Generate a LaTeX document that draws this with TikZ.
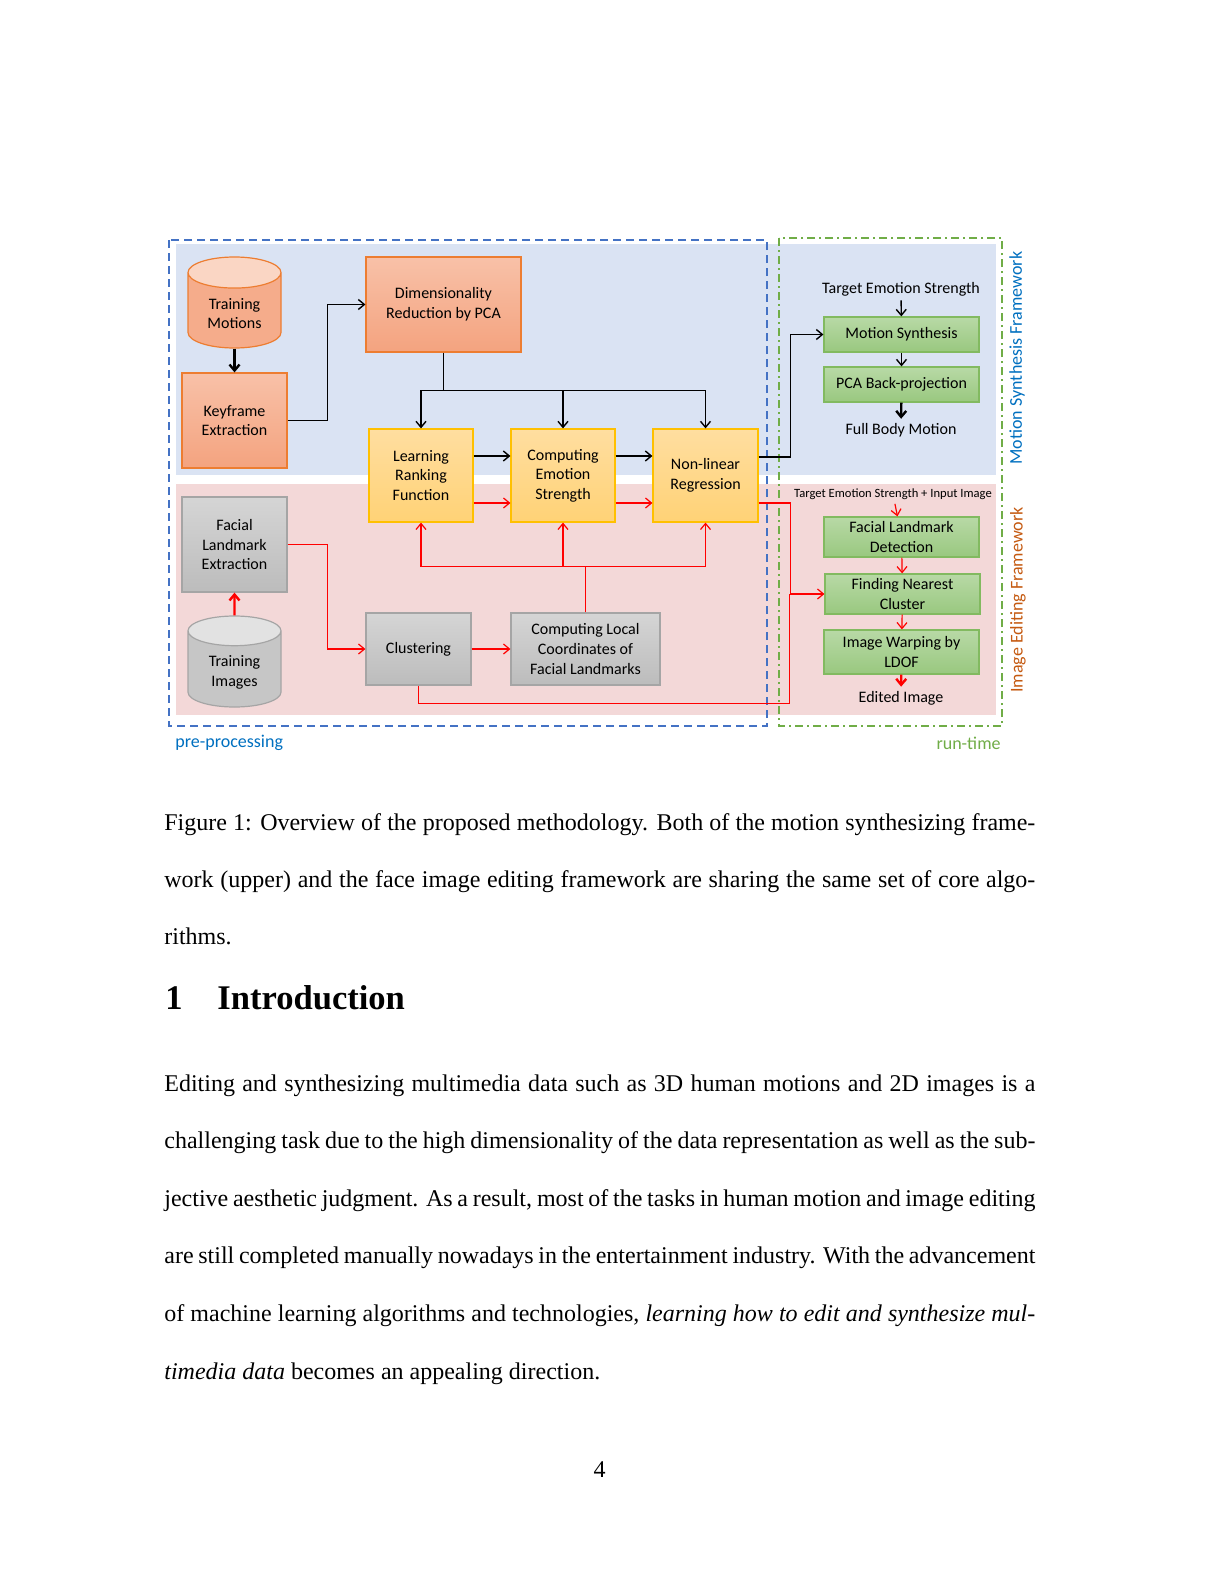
\documentclass[tikz,border=0pt]{standalone}
\usepackage{fontspec}
\setmainfont{Liberation Serif}
\newfontfamily\diagfont{Carlito}
\usetikzlibrary{arrows.meta,shapes.geometric}

\definecolor{bluebg}{RGB}{218,227,243}
\definecolor{pinkbg}{RGB}{243,216,216}
\definecolor{framebl}{RGB}{68,114,196}
\definecolor{framegn}{RGB}{112,173,71}
\definecolor{lblblue}{RGB}{0,112,192}
\definecolor{lblorange}{RGB}{197,90,17}
\definecolor{ortop}{RGB}{248,193,168}
\definecolor{orbot}{RGB}{244,163,127}
\definecolor{orbd}{RGB}{237,125,49}
\definecolor{orend}{RGB}{250,214,196}
\definecolor{yltop}{RGB}{255,222,160}
\definecolor{ylbot}{RGB}{255,210,118}
\definecolor{ylbd}{RGB}{255,192,0}
\definecolor{gytop}{RGB}{213,213,213}
\definecolor{gybot}{RGB}{188,188,188}
\definecolor{gybd}{RGB}{165,165,165}
\definecolor{gyend}{RGB}{226,226,226}
\definecolor{gntop}{RGB}{184,217,166}
\definecolor{gnbot}{RGB}{153,200,127}
\definecolor{gnbd}{RGB}{130,186,96}

\begin{document}
\begin{tikzpicture}[
  x=0.5pt, y=-0.5pt,
  >={Straight Barb[length=3pt,width=5pt]},
  lbl/.style={font=\diagfont\fontsize{8}{9.8}\selectfont, align=center, inner sep=2pt},
  box/.style={lbl, draw, line width=0.6pt, inner sep=1pt},
  motionbox/.style={box, draw=orbd, top color=ortop, bottom color=orbot,
    minimum width=52.5pt, minimum height=47.5pt},
  corebox/.style={box, draw=ylbd, top color=yltop, bottom color=ylbot,
    minimum width=52pt, minimum height=46.5pt},
  facebox/.style={box, draw=gybd, top color=gytop, bottom color=gybot,
    minimum height=36pt},
  runbox/.style={box, draw=gnbd, top color=gntop, bottom color=gnbot,
    minimum width=77.5pt},
  store/.style={lbl, draw, line width=0.6pt, cylinder, shape border rotate=90,
    aspect=0.5, cylinder uses custom fill, anchor=shape center,
    minimum width=46.5pt, minimum height=45.5pt},
  framelbl/.style={lbl, font=\diagfont\fontsize{9}{11}\selectfont},
  every edge/.style={draw, ->, line width=0.7pt, black},
  redline/.style={draw=red, line width=0.6pt},
  heavy/.style={line width=1.2pt},
  page/.style={font=\fontsize{12}{14}\selectfont, inner sep=0pt, anchor=base west}
]
  \fill[white] (0,0) rectangle (1224,1584);
  \useasboundingbox (0,0) rectangle (1224,1584);

  % Backgrounds of the two frameworks
  \fill[bluebg] (176,244) rectangle (996,475);
  \fill[pinkbg] (176,484) rectangle (996,715);
  \draw[framebl, line width=1.1pt, dash pattern=on 4pt off 2.5pt] (169,240) rectangle (767,726);
  \draw[framegn, line width=1pt, dash pattern=on 4pt off 2pt on 1pt off 2pt] (779,238) rectangle (1002,726);

  % Pre-processing: motions
  \node[store, draw=orbd, cylinder body fill=orbot!70!ortop, cylinder end fill=orend] (TM) at (234.5,302.5) {Training\\Motions};
  \node[motionbox] (KE) at (234.5,420.5) {Keyframe\\Extraction};
  \node[motionbox, minimum width=77.5pt] (DR) at (443.5,304.5) {Dimensionality\\Reduction by PCA};

  % Core algorithms
  \node[corebox] (LR) at (421,475.5) {Learning\\Ranking\\Function};
  \node[corebox] (CE) at (563,475.5) {Computing\\Emotion\\Strength};
  \node[corebox, minimum width=52.5pt] (NL) at (705.5,475.5) {Non-linear\\Regression};

  % Pre-processing: images
  \node[facebox, minimum width=52.5pt, minimum height=47.5pt] (FLE) at (234.5,544.5) {Facial\\Landmark\\Extraction};
  \node[store, draw=gybd, cylinder body fill=gybot!60!gytop, cylinder end fill=gyend] (TI) at (234.5,661.5) {Training\\Images};
  \node[facebox, minimum width=52.5pt] (CL) at (418.5,649) {Clustering};
  \node[facebox, minimum width=74.5pt] (CLC) at (585.5,649) {Computing Local\\Coordinates of\\Facial Landmarks};

  % Run-time: motion synthesis
  \node[lbl] (TES) at (901,289) {Target Emotion Strength};
  \node[runbox, minimum height=17.5pt] (MS) at (901.5,334.5) {Motion Synthesis};
  \node[runbox, minimum height=17.5pt] (PB) at (901.5,384.5) {PCA Back-projection};
  \node[lbl] (FBM) at (901,430) {Full Body Motion};

  % Run-time: image editing
  \node[lbl, font=\diagfont\fontsize{6.3}{7}\selectfont] (TESI) at (893,494) {Target Emotion Strength + Input Image};
  \node[runbox, minimum height=20pt] (FLD) at (901.5,537) {Facial Landmark\\Detection};
  \node[runbox, minimum height=20pt] (FNC) at (902.5,594) {Finding Nearest\\Cluster};
  \node[runbox, minimum height=22pt] (IW) at (901.5,652) {Image Warping by\\LDOF};
  \node[lbl] (EI) at (901,698) {Edited Image};

  % Frame labels
  \node[framelbl, text=lblblue, anchor=west, inner sep=0pt] (pre) at (175,743) {pre-processing};
  \node[framelbl, text=framegn, anchor=east, inner sep=0pt] (run) at (1001,743) {run-time};
  \node[framelbl, text=lblblue, rotate=90] (MSF) at (1017,358) {Motion Synthesis Framework};
  \node[framelbl, text=lblorange, rotate=90] (IEF) at (1018,600) {Image Editing Framework};

  % Motion pipeline (black)
  \path (TM) edge[heavy] (KE);
  \draw[->, line width=0.7pt] (KE.east) -- ++(40,0) |- (DR.west);
  \draw[line width=0.7pt] (DR.south) -- ++(0,38) coordinate (split);
  \draw[->, line width=0.7pt] (split) -| (LR.north);
  \draw[->, line width=0.7pt] (split) -| (CE.north);
  \draw[->, line width=0.7pt] (split) -| (NL.north);
  \path ([yshift=9.75pt]LR.east) edge ([yshift=9.75pt]CE.west);
  \path ([yshift=9.75pt]CE.east) edge ([yshift=9.75pt]NL.west);
  \draw[->, line width=0.7pt] ([yshift=9.25pt]NL.east) -- ++(32,0) |- (MS.west);
  \path (TES) edge (MS);
  \path (MS) edge (PB);
  \path (PB) edge[heavy] (FBM);

  % Image pipeline (red)
  \path (TI) edge[redline, heavy] (FLE);
  \draw[->, redline] (FLE.east) -- ++(40,0) |- (CL.west);
  \path (CL) edge[redline] (CLC);
  \draw[redline] (CLC.north) -- ++(0,-46) coordinate (rsplit);
  \draw[->, redline] (rsplit) -| (LR.south);
  \draw[->, redline] (rsplit) -| (CE.south);
  \draw[->, redline] (rsplit) -| (NL.south);
  \path ([yshift=-13.75pt]LR.east) edge[redline] ([yshift=-13.75pt]CE.west);
  \path ([yshift=-13.75pt]CE.east) edge[redline] ([yshift=-13.75pt]NL.west);
  \draw[->, redline] ([yshift=-13.75pt]NL.east) -- ++(32,0) |- (FNC.west);
  \draw[redline] (CL.south) -- ++(0,18) -| ([xshift=-17.5pt]FNC.west);
  \path (TESI) edge[redline] (FLD);
  \path (FLD) edge[redline] (FNC);
  \path (FNC) edge[redline] (IW);
  \path (IW) edge[redline, heavy] (EI);

  % Caption
  \node[page] (cap1) at (164,830) {\makebox[435.5pt][s]{Figure 1: Overview of the proposed methodology. Both of the motion synthesizing frame-}};
  \node[page] (cap2) at (164,887.5) {\makebox[435.5pt][s]{work (upper) and the face image editing framework are sharing the same set of core algo-}};
  \node[page] (cap3) at (164,944.5) {rithms.};

  % Section heading
  \node[page, font=\bfseries\fontsize{17.28}{20}\selectfont] (secnum) at (165,1009) {1};
  \node[page, font=\bfseries\fontsize{17.28}{20}\selectfont] (sectitle) at (217,1009) {Introduction};

  % Body text
  \node[page] (l1) at (164,1091) {\makebox[435.5pt][s]{Editing and synthesizing multimedia data such as 3D human motions and 2D images is a}};
  \node[page] (l2) at (164,1148.6) {\makebox[435.5pt][s]{challenging task due to the high dimensionality of the data representation as well as the sub-}};
  \node[page] (l3) at (164,1206.2) {\makebox[435.5pt][s]{jective aesthetic judgment. As a result, most of the tasks in human motion and image editing}};
  \node[page] (l4) at (164,1263.8) {\makebox[435.5pt][s]{are still completed manually nowadays in the entertainment industry. With the advancement}};
  \node[page] (l5) at (164,1321.4) {\makebox[435.5pt][s]{of machine learning algorithms and technologies, \textit{learning how to edit and synthesize mul-}}};
  \node[page] (l6) at (164,1379) {\textit{timedia data} becomes an appealing direction.};

  % Page number
  \node[page, anchor=base] (pnum) at (599.5,1477) {4};
\end{tikzpicture}
\end{document}
